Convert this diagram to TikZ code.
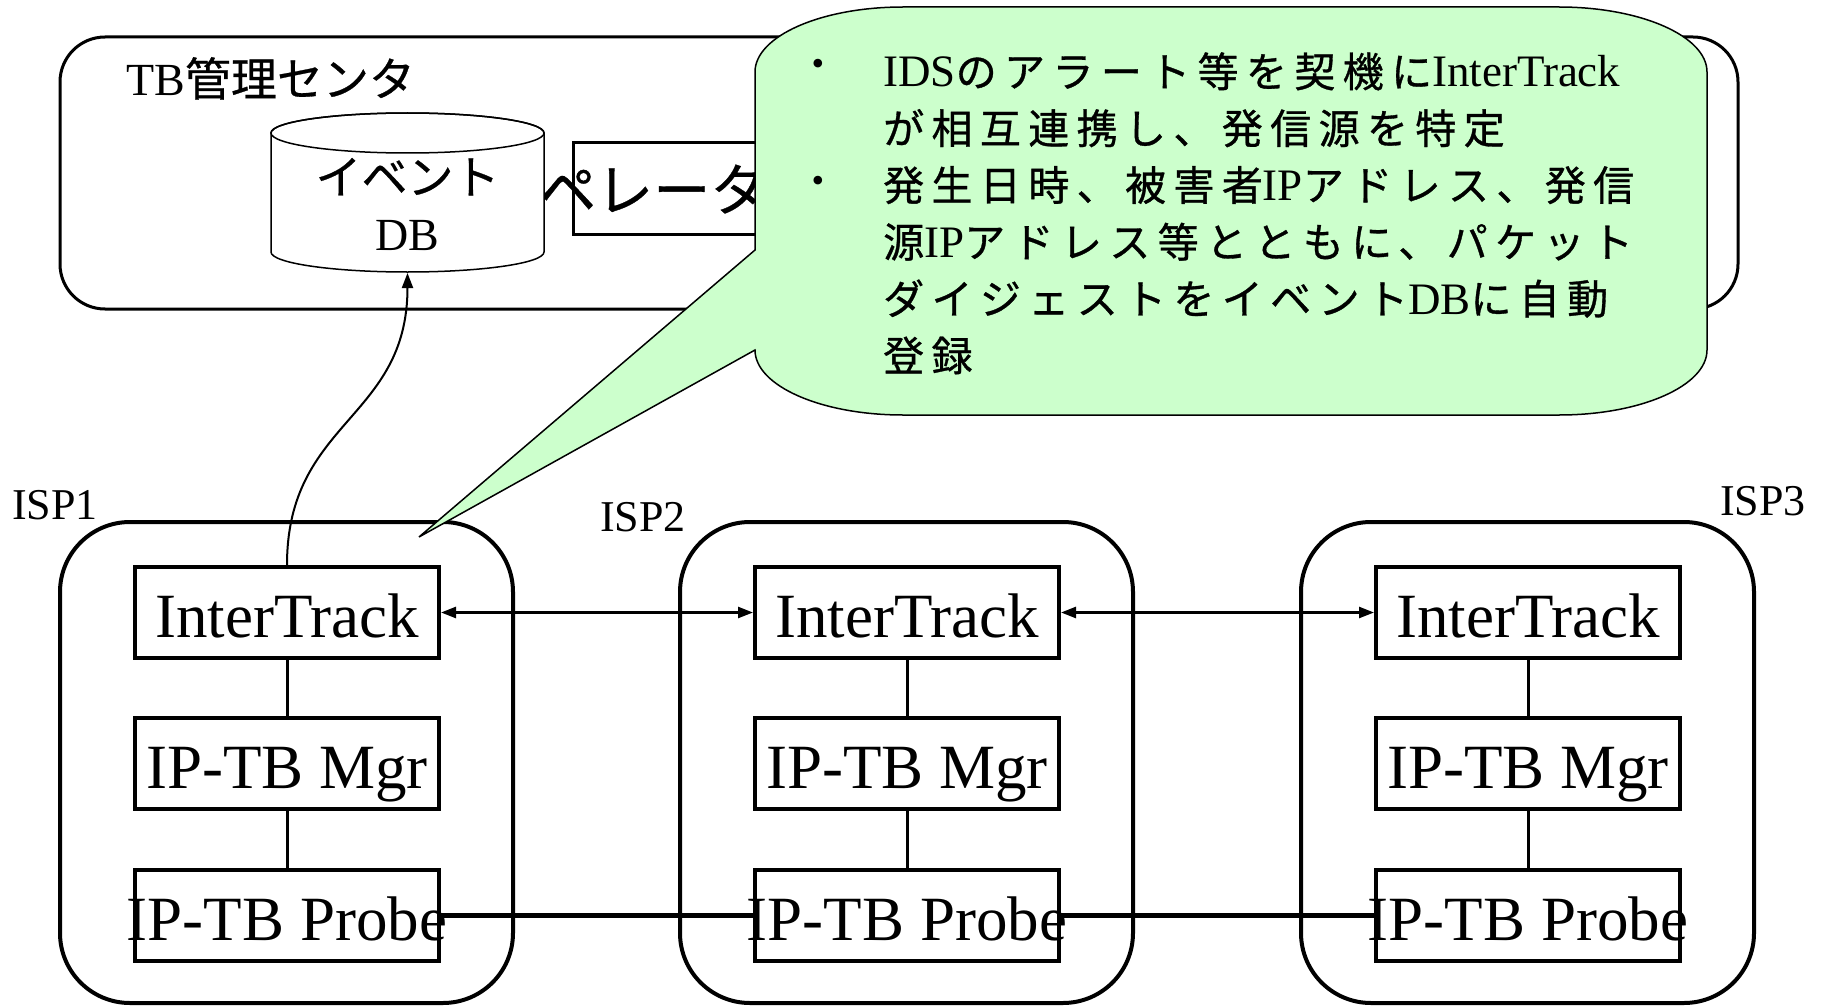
\documentclass[tikz,border=0pt]{standalone}
\usepackage{fontspec}
\setmainfont{Liberation Serif}
\newfontfamily\jpfont{Noto Sans CJK JP}[FakeBold=0.6]
\newfontfamily\jpwide{Noto Sans CJK JP}[LetterSpace=18,FakeBold=0.8]
\newcommand\jp[1]{{\jpfont #1}}
\newcommand\jw[1]{{\fontsize{41}{56}\jpwide #1}}
\usetikzlibrary{arrows.meta}
\definecolor{calloutgreen}{RGB}{204,255,204}

\tikzset{
  ispbox/.style={line width=4pt, rounded corners=70pt},
  ibox/.style={draw, line width=4pt, minimum width=304pt, minimum height=91pt,
    inner sep=0pt, text height=50pt, text depth=0pt, font=\fontsize{63}{70}\selectfont},
  link/.style={line width=3pt},
  probelink/.style={line width=5pt},
  isplabel/.style={anchor=base west, inner sep=0pt, font=\fontsize{44}{50}\selectfont},
  jptext/.style={inner sep=0pt, font=\fontsize{46}{52}\selectfont},
  notetext/.style={anchor=base west, inner sep=0pt, font=\fontsize{45}{56}\selectfont},
}

\begin{document}
\begin{tikzpicture}[x=1pt, y=-1pt, >={Triangle[length=15pt,width=11pt]}]
  \path[fill=white] (0,0) rectangle (1823,1006);

  % TB management centre
  \draw[line width=3pt, rounded corners=45pt] (60,37) rectangle (1738,309);
  \node[jptext, anchor=base west] (tbname) at (126,96) {TB\jp{管理センタ}};
  \node[draw, line width=3pt, minimum width=240pt, minimum height=91pt, inner sep=0pt] (opbox) at (693,188.5) {};
  \node[anchor=base west, inner sep=0pt, font=\fontsize{57}{60}\selectfont] (oplabel) at (539,211) {\jp{ペレータ}};

  % event DB
  \draw[line width=1.5pt, fill=white] (271,133) -- (271,252)
    arc[start angle=180, end angle=0, x radius=136.5, y radius=20] -- (544,133)
    arc[start angle=0, end angle=-180, x radius=136.5, y radius=20] -- cycle;
  \draw[line width=1.5pt] (407.5,133) ellipse[x radius=136.5, y radius=20];
  \node[jptext, anchor=base] (evt) at (407.5,194) {\jp{イベント}};
  \node[jptext, anchor=base] (db) at (407.5,250) {DB};
  \coordinate (dbbot) at (407.5,273);

  % ISPs
  \foreach \c/\x in {1/0,2/620,3/1241}{
    \draw[ispbox] (60+\x,522) rectangle (513+\x,1003);
    \node[ibox] (it\c) at (287+\x,612.5) {InterTrack};
    \node[ibox] (mgr\c) at (287+\x,763.5) {IP-TB Mgr};
    \node[ibox] (pr\c) at (287+\x,915) {\makebox[0pt]{IP-TB Probe}};
    \draw[link] (it\c) -- (mgr\c);
    \draw[link] (mgr\c) -- (pr\c);
  }
  \node[isplabel] (isp1) at (12,519) {ISP1};
  \node[isplabel] (isp2) at (600,531) {ISP2};
  \node[isplabel] (isp3) at (1720,515) {ISP3};

  \draw[<->, line width=2.5pt] (it1) -- (it2);
  \draw[<->, line width=2.5pt] (it2) -- (it3);
  \draw[probelink] (pr1) -- (pr2);
  \draw[probelink] (pr2) -- (pr3);
  \draw[->, line width=2pt] (it1.north) .. controls (287,420) and (407.5,420) .. (dbbot);

  % callout
  \draw[fill=calloutgreen, line width=1.5pt] (755,250) -- (755,72)
    arc[start angle=180, end angle=270, x radius=148, y radius=65] -- (1559,7)
    arc[start angle=270, end angle=360, x radius=148, y radius=65] -- (1707,350)
    arc[start angle=0, end angle=90, x radius=148, y radius=65] -- (903,415)
    arc[start angle=90, end angle=180, x radius=148, y radius=65] -- (755,350)
    -- (419,537) -- cycle;
  \node[inner sep=0pt, font=\fontsize{36}{40}\selectfont] (bul1) at (818,67) {\textbullet};
  \node[inner sep=0pt, font=\fontsize{36}{40}\selectfont] (bul2) at (818,184) {\textbullet};
  \foreach \txt [count=\i] in {IDS\jw{のアラート等を契機に}InterTrack,
      \jw{が相互連携し、発信源を特定},
      \jw{発生日時、被害者}IP\jw{アドレス、発信},
      \jw{源}IP\jw{アドレス等とともに、パケット},
      \jw{ダイジェストをイベント}DB\jw{に自動},
      \jw{登録}}
    \node[notetext] (note\i) at (883,30.2+56.8*\i) {\txt};
\end{tikzpicture}
\end{document}
